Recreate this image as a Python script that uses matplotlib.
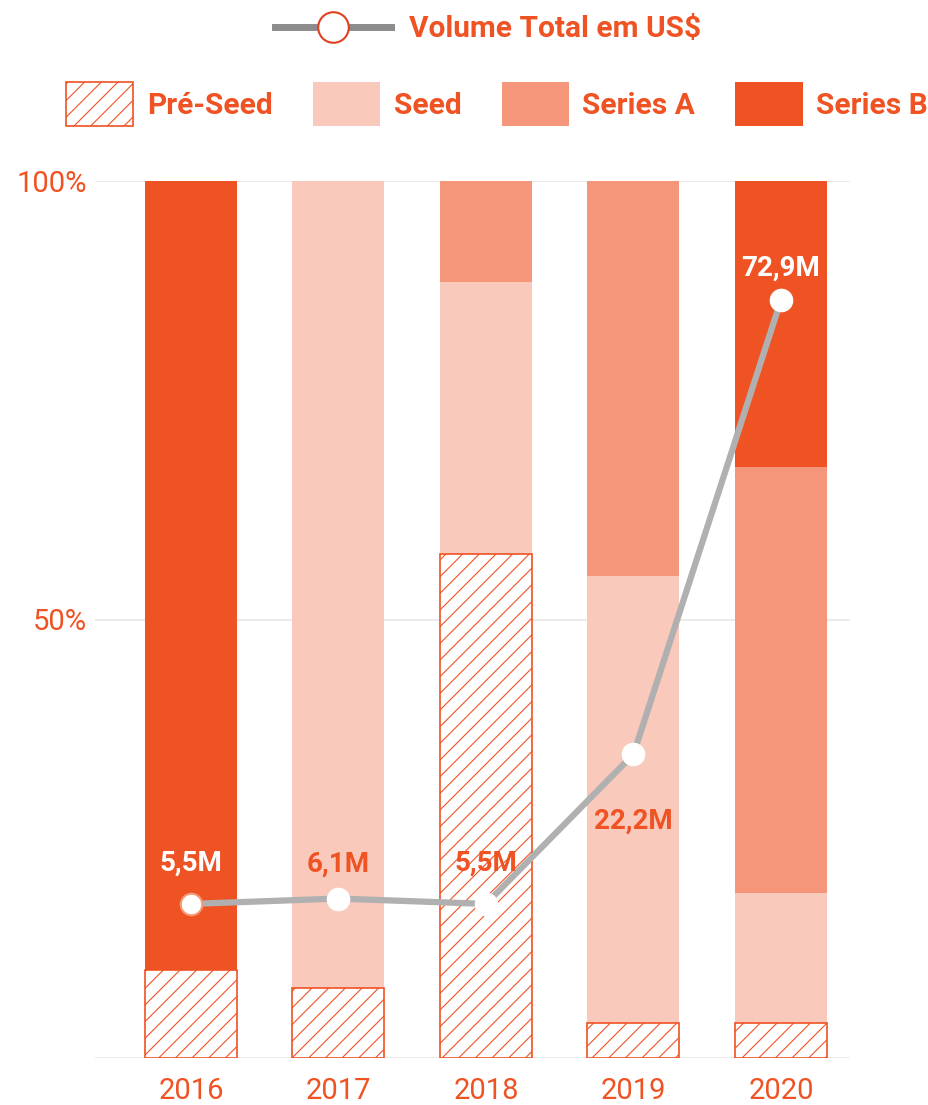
import matplotlib
matplotlib.use("Agg")
import matplotlib.pyplot as plt
from matplotlib.lines import Line2D
from matplotlib.patches import Patch
import numpy as np

# --- data -------------------------------------------------------------
years = ["2016", "2017", "2018", "2019", "2020"]
pre_seed = [10.0, 8.0, 57.5, 4.0, 4.0]
seed = [0.0, 92.0, 31.0, 51.0, 14.8]
series_a = [0.0, 0.0, 11.5, 45.0, 48.6]
series_b = [90.0, 0.0, 0.0, 0.0, 32.6]
volume = [5.5, 6.1, 5.5, 22.2, 72.9]
volume_labels = ["5,5M", "6,1M", "5,5M", "22,2M", "72,9M"]
y_ticks = [50, 100]
y_tick_labels = ["50%", "100%"]

# --- style ------------------------------------------------------------
ORANGE = "#EF5223"
SER_A = "#F5967A"
SEED = "#F9C9BB"
LINE = "#B0B0B0"
GRID = "#E8E8E8"
FONT = ["Roboto", "DejaVu Sans"]
plt.rcParams["font.family"] = FONT
plt.rcParams["hatch.linewidth"] = 0.8

fig = plt.figure(figsize=(9.29, 11.05), dpi=100)
W, H = 929, 1105
ax = fig.add_axes([95 / W, 1 - 1058 / H, (850 - 95) / W, (1058 - 181) / H])

x = np.arange(len(years))
bw = 0.624

bottom = np.zeros(len(years))
ax.bar(x, pre_seed, bw, bottom=bottom, facecolor="white", edgecolor=ORANGE,
       hatch="//", linewidth=1.2, zorder=3)
bottom += pre_seed
ax.bar(x, seed, bw, bottom=bottom, color=SEED, linewidth=0, zorder=2)
bottom += seed
ax.bar(x, series_a, bw, bottom=bottom, color=SER_A, linewidth=0, zorder=2)
bottom += series_a
ax.bar(x, series_b, bw, bottom=bottom, color=ORANGE, linewidth=0, zorder=2)

ax.set_xlim(-0.65, 4.468)
ax.set_ylim(0, 100)
for gy in [0, 50, 100]:
    ax.axhline(gy, color=GRID, linewidth=1.2, zorder=1)
for s in ax.spines.values():
    s.set_visible(False)
ax.set_yticks(y_ticks)
ax.set_yticklabels(y_tick_labels, fontsize=21, color=ORANGE)
ax.set_xticks(x)
ax.set_xticklabels(years, fontsize=21, color=ORANGE)
ax.tick_params(length=0)
ax.tick_params(axis="y", pad=6)
ax.tick_params(axis="x", pad=14)

# total volume on a hidden secondary axis
ax2 = ax.twinx()
ax2.set_ylim(-11.7, 86.2)
ax2.axis("off")
ax2.plot(x, volume, color=LINE, linewidth=4.5, zorder=3, solid_capstyle="butt")
for i, v in enumerate(volume):
    ec = "#F39A73" if i == 0 else "white"
    ax2.plot(x[i], v, marker="o", markersize=15.5, markerfacecolor="white",
             markeredgecolor=ec, markeredgewidth=1.5, zorder=4)

label_colors = ["white", ORANGE, ORANGE, ORANGE, "white"]
label_offsets = [29, 25, 29, -48, 23]
for i, (v, t) in enumerate(zip(volume, volume_labels)):
    ax2.annotate(t, (x[i], v), xytext=(0, label_offsets[i]), textcoords="offset points",
                 ha="center", va="center", fontsize=20, fontweight="bold",
                 color=label_colors[i], zorder=5)

# legends
line_handle = Line2D([], [], color="#8C8C8C", linewidth=5, marker="o", markersize=22,
                     markerfacecolor="white", markeredgecolor="#E0401F", markeredgewidth=1.5)
leg1 = fig.legend([line_handle], ["Volume Total em US$"], loc="center",
                  bbox_to_anchor=(488 / W, 1 - 29 / H), frameon=False,
                  handlelength=3.9, handletextpad=0.6, prop={"size": 21.5, "weight": "bold"})
for t in leg1.get_texts():
    t.set_color(ORANGE)

patches = [
    Patch(facecolor="white", edgecolor=ORANGE, hatch="//", linewidth=1.2),
    Patch(facecolor=SEED, linewidth=0),
    Patch(facecolor=SER_A, linewidth=0),
    Patch(facecolor=ORANGE, linewidth=0),
]
leg2 = fig.legend(patches, ["Pré-Seed", "Seed", "Series A", "Series B"], loc="center",
                  bbox_to_anchor=(497 / W, 1 - 104 / H), ncol=4, frameon=False,
                  handlelength=2.25, handleheight=1.9, handletextpad=0.45,
                  columnspacing=1.35, prop={"size": 21.5, "weight": "bold"})
for t in leg2.get_texts():
    t.set_color(ORANGE)

fig.savefig("out.png", dpi=100)
